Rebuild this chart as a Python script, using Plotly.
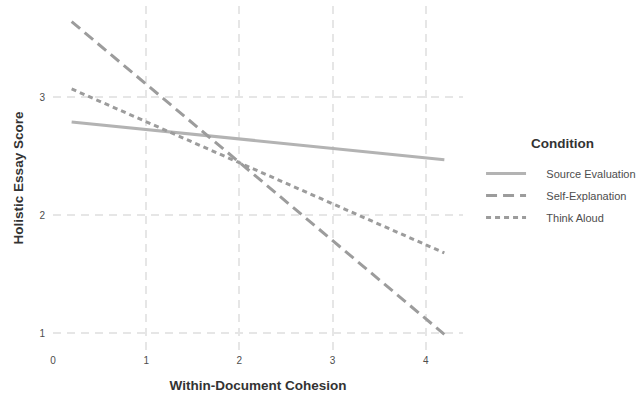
import plotly.graph_objects as go

conditions = ["Source Evaluation", "Self-Explanation", "Think Aloud"]
x_vals = [0.2, 4.2]
y_source = [2.79, 2.47]
y_self = [3.64, 0.99]
y_think = [3.07, 1.68]
x_ticks = [0, 1, 2, 3, 4]
y_ticks = [1, 2, 3]
legend_title = "Condition"

series = [y_source, y_self, y_think]
colors = ["#b3b3b3", "#9c9c9c", "#9c9c9c"]
dashes = ["solid", "11px,6px", "5px,4px"]
pad = "\u00a0" * 5

fig = go.Figure()
for name, ys, c, d in zip(conditions, series, colors, dashes):
    fig.add_trace(go.Scatter(x=x_vals, y=ys, mode="lines", name=pad + name, legendgroup=name,
                             line=dict(color=c, width=3, dash=d)))

common = dict(showgrid=True, gridcolor="#e6e6e6", gridwidth=1.5, griddash="8px,6px",
              zeroline=False, showline=False, ticks="outside", tickcolor="rgba(0,0,0,0)",
              automargin=False,
              tickfont=dict(family="Liberation Sans, Arial", size=10, color="#4d4d4d"))

fig.update_layout(
    width=642, height=395,
    margin=dict(l=53, r=179, t=6, b=45, autoexpand=False),
    plot_bgcolor="white", paper_bgcolor="white",
    font=dict(family="Liberation Sans, Arial", color="#333333"),
    xaxis=dict(range=[0, 4.4], tickvals=x_ticks, ticklen=1,
               title=dict(text="<b>Within-Document Cohesion</b>", font=dict(size=13.5, color="#333333"), standoff=15),
               **common),
    yaxis=dict(range=[0.8575, 3.7725], tickvals=y_ticks, ticklen=5,
               title=dict(text="<b>Holistic Essay Score</b>", font=dict(size=13.5, color="#333333"), standoff=12),
               **common),
    legend=dict(font=dict(size=11, color="#4d4d4d"),
                x=1.044, xanchor="left", y=0.449, yanchor="middle",
                itemwidth=40, tracegroupgap=3),
    annotations=[dict(text="<b>" + legend_title + "</b>", xref="paper", yref="paper",
                      x=1.2415, y=0.6017, xanchor="center", yanchor="middle", showarrow=False,
                      font=dict(size=13.5, color="#333333"))],
)

fig.write_html("out.html", config={"displayModeBar": False},
               post_script="document.body.style.margin='0';document.body.style.overflow='hidden';")
